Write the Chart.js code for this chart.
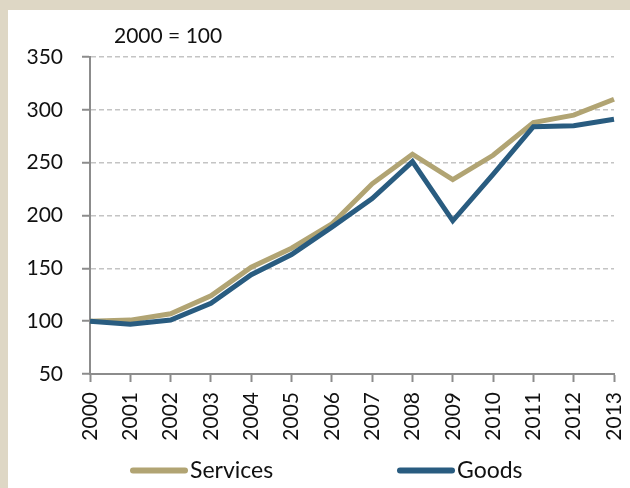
<!DOCTYPE html>
<html>
<head>
<meta charset="utf-8">
<script src="https://cdn.jsdelivr.net/npm/chart.js@4"></script>
<style>
  html, body { margin: 0; padding: 0; background: #ded7c5; }
  #wrap { position: absolute; left: 8px; top: 10px; width: 622px; height: 478px; background: #ffffff; }
</style>
</head>
<body>
<div id="wrap"><canvas id="indexChart" width="622" height="478"></canvas></div>
<script>
const years = ["2000", "2001", "2002", "2003", "2004", "2005", "2006", "2007", "2008", "2009", "2010", "2011", "2012", "2013"];
const services = [100, 101, 107, 124, 151, 169, 192, 230, 258, 234, 257, 288, 295, 310];
const goods = [100, 97, 101, 117, 144, 163, 189, 216, 251, 195, 239, 284, 285, 291];
const seriesNames = ["Services", "Goods"];
const seriesColors = ["#b1a473", "#295c80"];
const baseNote = "2000 = 100";

const fontFamily = "Lato, 'Open Sans', sans-serif";

// note above the plot and the legend below the axis
const annotations = {
  id: "annotations",
  afterDraw(chart) {
    const { ctx, chartArea } = chart;
    ctx.save();
    ctx.fillStyle = "#111111";
    ctx.font = "21px " + fontFamily;
    ctx.textBaseline = "alphabetic";
    ctx.textAlign = "left";
    ctx.fillText(baseNote, chartArea.left + 24, 33);

    const legendY = 460.5;
    const items = [
      { x: chartArea.left + 43, w: 52 },
      { x: chartArea.left + 310, w: 52 },
    ];
    ctx.font = "23px " + fontFamily;
    ctx.textBaseline = "middle";
    chart.data.datasets.forEach((ds, i) => {
      const it = items[i];
      ctx.strokeStyle = ds.borderColor;
      ctx.lineWidth = 6;
      ctx.lineCap = "round";
      ctx.beginPath();
      ctx.moveTo(it.x, legendY);
      ctx.lineTo(it.x + it.w, legendY);
      ctx.stroke();
      ctx.fillText(ds.label, it.x + it.w + 5, legendY);
    });
    ctx.restore();
  },
};

const ctx = document.getElementById("indexChart").getContext("2d");
const indexChart = new Chart(ctx, {
  type: "line",
  data: {
    labels: years,
    datasets: [
      {
        label: seriesNames[0],
        data: services,
        borderColor: seriesColors[0],
        backgroundColor: seriesColors[0],
        borderWidth: 5,
        pointRadius: 0,
        tension: 0,
        order: 1,
      },
      {
        label: seriesNames[1],
        data: goods,
        borderColor: seriesColors[1],
        backgroundColor: seriesColors[1],
        borderWidth: 5,
        pointRadius: 0,
        tension: 0,
        order: 0,
      },
    ],
  },
  options: {
    responsive: false,
    animation: false,
    layout: {
      padding: { left: 0, right: 16, top: 47, bottom: 44 },
    },
    plugins: {
      legend: { display: false },
      tooltip: { enabled: false },
    },
    scales: {
      x: {
        offset: false,
        grid: {
          drawOnChartArea: false,
          drawTicks: true,
          tickLength: 8,
          tickColor: "#8c8c8c",
          tickWidth: 2,
        },
        border: { color: "#8c8c8c", width: 2 },
        ticks: {
          color: "#111111",
          font: { family: fontFamily, size: 21 },
          minRotation: 90,
          maxRotation: 90,
          padding: 10,
          autoSkip: false,
        },
        afterFit(scale) {
          scale.height = 70;
          scale.paddingLeft = 0;
          scale.paddingRight = 0;
        },
      },
      y: {
        min: 50,
        max: 350,
        grid: {
          color: "#c4c4c4",
          lineWidth: 1.5,
          drawTicks: true,
          tickLength: 8,
          tickColor: "#8c8c8c",
          tickWidth: 2,
        },
        border: { color: "#8c8c8c", width: 2, dash: [5, 3] },
        ticks: {
          stepSize: 50,
          color: "#111111",
          font: { family: fontFamily, size: 21 },
          padding: 19,
        },
        afterFit(scale) {
          scale.width = 82;
        },
      },
    },
  },
  plugins: [annotations],
});
</script>
</body>
</html>
